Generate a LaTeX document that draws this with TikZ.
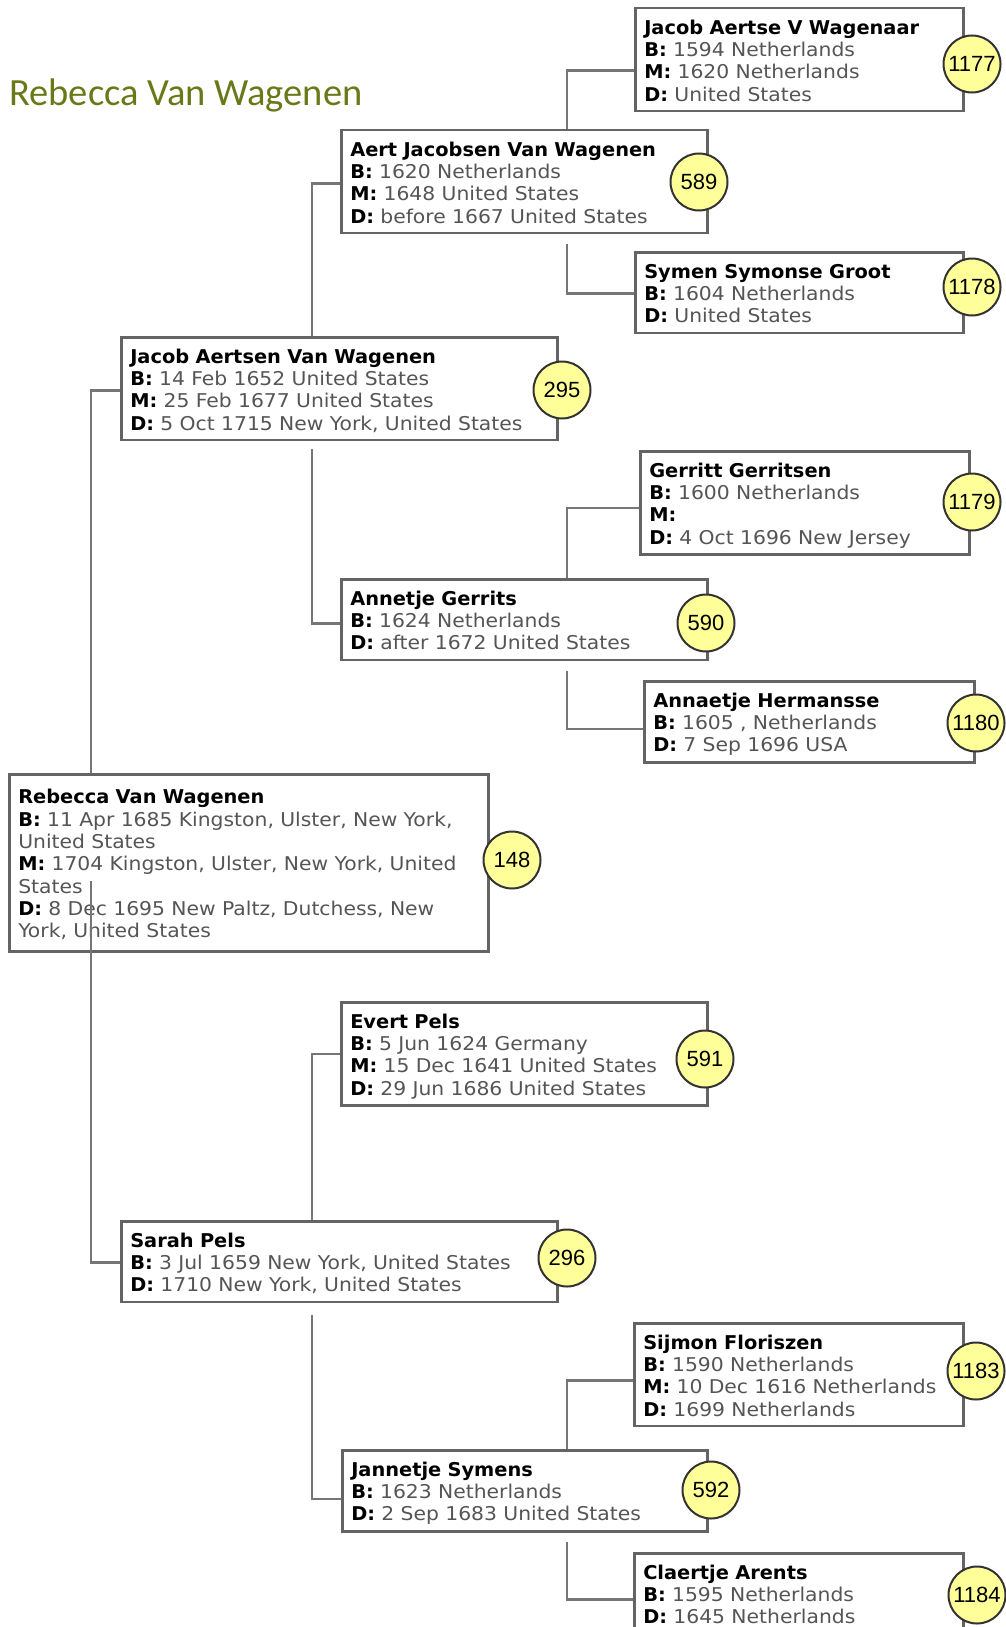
\documentclass[tikz,border=0pt]{standalone}
\usepackage{fontspec}
\setmainfont{DejaVu Sans}[FakeStretch=1.07, BoldFeatures={FakeStretch=1.02}]
\newfontfamily\titlefont{Carlito}
\newfontfamily\numfont{Liberation Sans}
\definecolor{titlegreen}{RGB}{104,122,24}
\definecolor{linegray}{RGB}{118,118,118}
\definecolor{boxgray}{RGB}{100,100,100}
\definecolor{factgray}{RGB}{85,85,85}
\definecolor{badgeyellow}{RGB}{255,255,153}
\newcommand{\fact}[2]{\mbox{\textbf{#1:} \textcolor{factgray}{#2}}}
\newcommand{\firstline}{\rule{0pt}{19.5pt}}
\newcommand{\lastline}{\rule[-3.5pt]{0pt}{3.5pt}}
\tikzset{
  person/.style={draw=boxgray, line width=2.5pt, fill=white, anchor=north west, align=left,
    inner xsep=9pt, inner ysep=6.5pt, font=\fontsize{19}{22.3}\selectfont},
  badge/.style={circle, draw=black!80, line width=2pt, fill=badgeyellow, minimum size=57pt,
    inner sep=0pt, font=\numfont\fontsize{22}{24}\selectfont},
  link/.style={draw=linegray, line width=2.5pt},
}
\begin{document}
\begin{tikzpicture}[x=1pt,y=-1pt]
    \useasboundingbox (0,0) rectangle (1005,1627);
    \node[anchor=base west, inner sep=0pt, text=titlegreen, font=\titlefont\fontsize{38.5}{40}\selectfont]
        (title) at (9,106) {Rebecca Van Wagenen};
    % boxes, generation by generation
    \node[person, text width=310pt] (p1177) at (634,7)
        {\firstline\textbf{Jacob Aertse V Wagenaar}\\ \fact{B}{1594 Netherlands}\\ \fact{M}{1620 Netherlands}\\ \fact{D}{United States}\lastline};
    \node[person, text width=348pt] (p589) at (340,129)
        {\firstline\textbf{Aert Jacobsen Van Wagenen}\\ \fact{B}{1620 Netherlands}\\ \fact{M}{1648 United States}\\ \fact{D}{before 1667 United States}\lastline};
    \node[person, text width=310pt] (p1178) at (634,251)
        {\firstline\textbf{Symen Symonse Groot}\\ \fact{B}{1604 Netherlands}\\ \fact{D}{United States}\lastline};
    \node[person, text width=418pt] (p295) at (120,336)
        {\firstline\textbf{Jacob Aertsen Van Wagenen}\\ \fact{B}{14 Feb 1652 United States}\\ \fact{M}{25 Feb 1677 United States}\\ \fact{D}{5 Oct 1715 New York, United States}\lastline};
    \node[person, text width=311pt] (p1179) at (639,450)
        {\firstline\textbf{Gerritt Gerritsen}\\ \fact{B}{1600 Netherlands}\\ \fact{M}{}\\ \fact{D}{4 Oct 1696 New Jersey}\lastline};
    \node[person, text width=348pt] (p590) at (340,578)
        {\firstline\textbf{Annetje Gerrits}\\ \fact{B}{1624 Netherlands}\\ \fact{D}{after 1672 United States}\lastline};
    \node[person, text width=312pt] (p1180) at (643,680)
        {\firstline\textbf{Annaetje Hermansse}\\ \fact{B}{1605 , Netherlands}\\ \fact{D}{7 Sep 1696 USA}\lastline};
    \node[person, text width=461pt, minimum height=177pt] (p148) at (8,773)
        {\firstline\textbf{Rebecca Van Wagenen}\\ \fact{B}{11 Apr 1685 Kingston, Ulster, New York,}\\ \textcolor{factgray}{United States}\\
         \fact{M}{1704 Kingston, Ulster, New York, United}\\ \textcolor{factgray}{States}\\
         \fact{D}{8 Dec 1695 New Paltz, Dutchess, New}\\ \textcolor{factgray}{York, United States}\lastline};
    \node[person, text width=348pt] (p591) at (340,1001)
        {\firstline\textbf{Evert Pels}\\ \fact{B}{5 Jun 1624 Germany}\\ \fact{M}{15 Dec 1641 United States}\\ \fact{D}{29 Jun 1686 United States}\lastline};
    \node[person, text width=418pt] (p296) at (120,1220)
        {\firstline\textbf{Sarah Pels}\\ \fact{B}{3 Jul 1659 New York, United States}\\ \fact{D}{1710 New York, United States}\lastline};
    \node[person, text width=311pt] (p1183) at (633,1322)
        {\firstline\textbf{Sijmon Floriszen}\\ \fact{B}{1590 Netherlands}\\ \fact{M}{10 Dec 1616 Netherlands}\\ \fact{D}{1699 Netherlands}\lastline};
    \node[person, text width=347pt] (p592) at (341,1449)
        {\firstline\textbf{Jannetje Symens}\\ \fact{B}{1623 Netherlands}\\ \fact{D}{2 Sep 1683 United States}\lastline};
    \node[person, text width=311pt] (p1184) at (633,1552)
        {\firstline\textbf{Claertje Arents}\\ \fact{B}{1595 Netherlands}\\ \fact{D}{1645 Netherlands}\lastline};
    % trunks
    \coordinate (c1) at (91,0);
    \coordinate (c2) at (312,0);
    \coordinate (c3) at (567,0);
    \draw[link] ([yshift=-11pt]p1177.west) -| (c3 |- p589.north);
    \draw[link] ([yshift=-10pt]c3 |- p589.south) |- ([yshift=-1pt]p1178.west);
    \draw[link] (c2 |- p295.north) |- ([yshift=-2pt]p589.west);
    \draw[link] ([yshift=-8pt]c2 |- p295.south) |- ([yshift=-4pt]p590.west);
    \draw[link] (c3 |- p590.north) |- ([yshift=-5pt]p1179.west);
    \draw[link] ([yshift=-10pt]c3 |- p590.south) |- ([yshift=-7pt]p1180.west);
    \draw[link] (c1 |- p148.north) |- ([yshift=-2pt]p295.west);
    \draw[link] ([yshift=-108pt]c1 |- p148.north) |- ([yshift=-1pt]p296.west);
    \draw[link] (c2 |- p296.north) |- (p591.west);
    \draw[link] ([yshift=-12pt]c2 |- p296.south) |- ([yshift=-8pt]p592.west);
    \draw[link] (c3 |- p592.north) |- ([yshift=-6pt]p1183.west);
    \draw[link] ([yshift=-9pt]c3 |- p592.south) |- ([yshift=-6pt]p1184.west);
    % numbers
    \node[badge] (n1177) at (972,64) {1177};
    \node[badge] (n589) at (699,182) {589};
    \node[badge] (n1178) at (972,287) {1178};
    \node[badge] (n295) at (562,390) {295};
    \node[badge] (n1179) at (972,502) {1179};
    \node[badge] (n590) at (706,623) {590};
    \node[badge] (n1180) at (976,723) {1180};
    \node[badge] (n148) at (512,860) {148};
    \node[badge] (n591) at (705,1059) {591};
    \node[badge] (n296) at (567,1258) {296};
    \node[badge] (n1183) at (976,1371) {1183};
    \node[badge] (n592) at (711,1490) {592};
    \node[badge] (n1184) at (977,1595) {1184};
\end{tikzpicture}
\end{document}
